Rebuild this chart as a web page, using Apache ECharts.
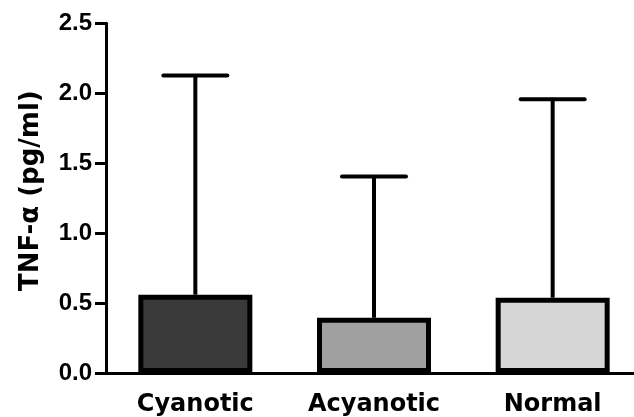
<!DOCTYPE html>
<html>
<head>
<meta charset="utf-8">
<script src="https://cdn.jsdelivr.net/npm/echarts@6/dist/echarts.min.js"></script>
<style>html,body{margin:0;padding:0;background:#fff;overflow:hidden;width:634px;height:417px}#c{width:642px;height:417px}</style>
</head>
<body>
<div id="c"></div>
<script>
var categories = ['Cyanotic', 'Acyanotic', 'Normal'];
var means = [0.56, 0.395, 0.538];
var upperErr = [2.126, 1.404, 1.957];
var barColors = ['#3a3a3a', '#a0a0a0', '#d6d6d6'];
var yTicks = [0, 0.5, 1.0, 1.5, 2.0, 2.5];

var chart = echarts.init(document.getElementById('c'));
var errData = categories.map(function (c, i) { return [i, means[i], upperErr[i]]; });

chart.setOption({
  animation: false,
  grid: { left: 106, right: 0, top: 23.3, height: 350, containLabel: false },
  xAxis: {
    type: 'category',
    data: categories,
    axisLine: { lineStyle: { color: '#000', width: 3 } },
    axisTick: { alignWithLabel: true, length: 10, lineStyle: { color: '#000', width: 3 } },
    axisLabel: { color: '#000', fontFamily: 'DejaVu Sans', fontWeight: 'bold', fontSize: 24, margin: 20 }
  },
  yAxis: {
    type: 'value',
    min: yTicks[0], max: yTicks[yTicks.length - 1], interval: 0.5,
    name: 'TNF-α (pg/ml)',
    nameLocation: 'middle',
    nameGap: 62,
    nameTextStyle: { color: '#000', fontFamily: 'DejaVu Sans', fontWeight: 'bold', fontSize: 26, padding: [0, 0, 0, 15] },
    splitLine: { show: false },
    axisLine: { show: true, lineStyle: { color: '#000', width: 3 } },
    axisTick: { show: true, length: 11, lineStyle: { color: '#000', width: 3 } },
    axisLabel: {
      color: '#000', fontFamily: 'Liberation Sans', fontWeight: 'bold', fontSize: 24, margin: 14,
      formatter: function (v) { return v.toFixed(1); }
    }
  },
  series: [
    {
      type: 'bar',
      barWidth: 114,
      data: means.map(function (v, i) {
        return { value: v, itemStyle: { color: barColors[i], borderColor: '#000', borderWidth: 5 } };
      }),
      z: 2
    },
    {
      type: 'custom',
      z: 3,
      data: errData,
      renderItem: function (params, api) {
        var x = api.value(0);
        var lo = api.coord([x, api.value(1)]);
        var hi = api.coord([x, api.value(2)]);
        var half = 32;
        var style = { stroke: '#000', lineWidth: 4, lineCap: 'round' };
        return {
          type: 'group',
          children: [
            { type: 'line', shape: { x1: lo[0], y1: lo[1], x2: hi[0], y2: hi[1] }, style: { stroke: '#000', lineWidth: 4 } },
            { type: 'line', shape: { x1: hi[0] - half, y1: hi[1], x2: hi[0] + half, y2: hi[1] }, style: style }
          ]
        };
      }
    }
  ]
});
</script>
</body>
</html>
